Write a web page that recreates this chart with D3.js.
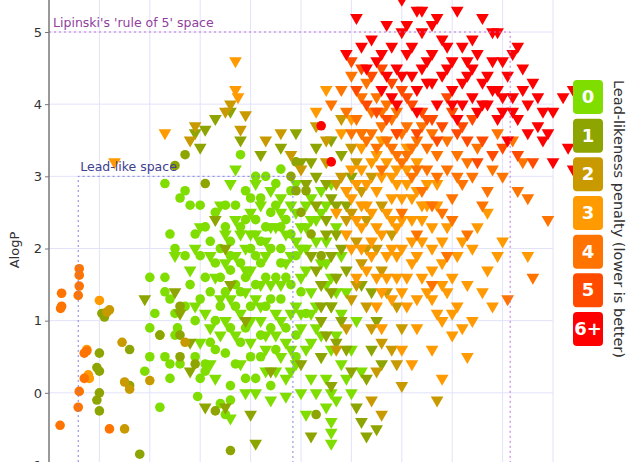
<!DOCTYPE html>
<html><head><meta charset="utf-8">
<script src="https://cdn.jsdelivr.net/npm/d3@7"></script>
<style>body{margin:0;background:#fff}svg{font-family:"DejaVu Sans",sans-serif}</style>
</head><body><svg id="c" width="640" height="462"></svg>
<script>
const penaltyLabels = ["0","1","2","3","4","5","6+"];
const penaltyColors = ["#7fdd00","#8ea400","#c99a00","#ff9a00","#ff7400","#ff4a00","#ff0000"];
const yTicks = [-1,0,1,2,3,4,5];
const xGrid = [1,2,3,4,5,6,7,8,9,10];
// points: "x,y" lists per penalty class; circles and triangles
const circles = [
"2.6,2.7 2.8,2.6 2.4,2.2 2.5,2.0 2.3,1.6 2.3,1.4 2.4,1.3 2.5,1.1 2.55,0.9 2.2,0.8 2.5,0.8 2.3,0.5 2.4,0.4 2.4,0.2 2.2,-0.2 2.9,0.5 3.0,0.2 2.95,-0.05 2.9,1.0 3.0,1.3 3.1,1.6 3.0,1.9 3.2,2.1 3.3,1.8 3.2,1.4 3.4,1.2 3.5,1.4 3.6,1.7 3.4,2.0 3.5,2.3 3.1,2.3 3.3,2.5 3.6,2.1 3.7,1.5 3.6,0.9 3.8,0.7 3.7,0.4 3.9,0.2 3.6,0.1 3.5,0.55 3.3,0.6 3.1,0.3 3.4,-0.15 3.5,-0.3 3.9,0.9 4.0,1.2 4.1,1.5 3.8,1.8 4.0,2.0 3.9,2.4 3.7,2.6 3.9,2.8 4.2,2.7 4.3,2.3 4.4,2.0 4.2,1.8 4.5,1.6 4.3,1.2 4.6,1.3 4.4,0.9 4.5,0.6 4.2,0.5 4.1,0.2 4.4,0.1 4.7,0.9 4.8,1.5 4.6,2.0 4.7,2.4 4.5,2.6 4.8,2.8 4.3,3.0 4.6,3.1 3.8,3.3 4.1,3.0 2.3,2.9 2.7,2.8 2.0,1.6 2.1,1.1 2.0,0.9 2.0,0.5 1.9,0.3 3.6,-0.1 3.1,0.4 4.9,1.9 4.9,0.8 5.1,1.1 2.8,1.5 2.7,1.9 3.0,2.6 3.8,2.3 4.1,1.9 4.3,1.6 4.6,1.8 4.0,0.5 3.3,1.0 3.4,1.6 3.7,1.2 3.9,1.6 4.1,2.4 4.2,2.1 4.4,2.5 4.6,2.3 4.7,1.6 4.4,1.3 4.2,0.8 3.8,1.4 3.6,1.9 3.5,2.6 4.0,2.7 4.5,2.9 4.8,2.2 5.0,1.4 4.9,0.5 3.2,0.7 2.7,1.2 2.6,0.4 2.9,2.2",
"1.1,1.05 1.05,1.1 1.0,0.55 1.0,0.3 0.95,0.35 1.0,0.0 1.0,-0.25 0.95,-0.1 1.6,0.6 1.6,0.1 2.2,0.8 2.6,0.5 2.6,0.8 2.6,1.2 2.9,0.4 3.1,2.9 2.5,3.15 2.7,3.3 4.8,3.0 4.9,2.8 5.0,2.5 5.2,2.2 5.4,1.9 1.8,-0.85 3.3,-0.25 5.3,-0.3 3.6,-0.8 4.9,3.2 5.1,2.8",
"1.15,1.12 1.2,1.15 1.45,0.7 1.5,0.15 2.7,0.7 1.5,-0.5 1.6,0.05 2.0,0.17",
"1.0,1.28 0.75,0.6 0.8,0.2 0.78,0.25",
"0.23,1.17 0.25,1.2 0.25,1.38 0.6,1.72 0.6,1.63 0.6,1.48 0.58,1.35 0.6,0.02 0.58,-0.2 0.22,-0.45 0.7,0.55 0.75,0.58 0.7,0.2 1.2,-0.5",
"",
"5.4,3.7 5.6,3.2"
];
const triangles = [
"2.5,1.9 2.8,1.7 3.0,0.7 3.2,0.4 3.2,0.9 3.4,0.8 3.5,1.0 3.6,1.3 3.8,1.1 3.9,1.4 3.7,1.9 3.8,2.2 4.0,2.5 4.1,2.2 4.2,1.5 4.0,0.7 3.8,0.4 4.1,0.0 4.3,0.3 4.3,0.8 4.5,1.1 4.6,0.5 4.7,0.2 4.4,-0.1 4.8,0.6 4.9,1.2 5.0,1.6 5.1,2.0 5.0,2.3 4.8,2.6 4.9,2.9 5.2,2.7 5.3,2.4 5.2,1.4 5.3,0.9 5.4,0.5 5.5,0.2 5.6,0.0 5.5,-0.2 5.6,-0.4 5.2,0.2 5.0,0.0 4.7,-0.05 5.4,1.8 5.5,2.1 5.6,1.6 5.6,1.2 5.7,0.8 5.5,2.6 5.4,2.8 5.6,2.9 5.7,2.3 4.4,2.8 4.6,2.5 3.6,2.9 3.4,2.6 3.0,2.3 2.9,2.0 3.3,1.6 4.2,1.2 4.7,1.8 4.9,2.1 5.1,0.6 5.3,0.0 5.1,-0.3 5.7,-0.1 5.8,0.4 5.9,0.2 6.0,0.0 4.0,1.7 4.4,1.5 4.5,2.3 4.1,2.9 3.7,3.1 5.8,1.9 5.9,1.4 6.1,1.0 6.0,0.6 6.2,0.3 3.9,0.0 3.3,0.2 3.6,-0.35 2.9,1.2 4.3,2.1 4.6,1.0 4.8,0.3 5.0,0.9 5.2,1.1 4.5,0.8 4.2,1.0 3.9,1.7 5.3,2.1 5.1,2.6 4.7,2.2 5.6,-0.55 5.6,-0.7 3.5,1.8 3.7,0.8 3.9,2.0 4.1,1.3 4.3,1.9 4.4,2.3 4.6,1.5 4.8,1.1 4.8,1.9 5.0,2.0 5.1,1.7 5.2,2.4 5.3,1.2 5.4,0.8 5.5,1.5 5.0,1.1 4.7,0.7 4.3,0.6 4.0,1.0 3.7,2.4 4.0,2.2 4.2,2.6 4.6,2.7 4.9,2.5 5.1,2.3 5.4,2.5 5.5,1.8 5.2,0.7 4.9,0.4 4.5,0.3 3.4,1.3 3.1,1.1 3.2,1.9 3.5,2.2 5.7,1.4 5.8,1.1 5.6,0.6",
"1.9,1.3 2.5,1.4 2.6,1.1 2.8,0.7 2.8,0.3 3.1,-0.2 3.5,-0.2 4.0,-0.3 4.1,-0.7 4.4,0.3 5.0,0.4 5.2,-0.6 5.6,0.1 5.4,0.5 5.5,0.8 5.6,1.2 5.4,1.5 5.3,1.7 5.6,1.9 5.7,2.2 5.5,2.4 5.6,2.7 5.3,3.0 5.0,3.2 4.6,3.4 4.2,3.3 3.8,3.5 3.0,3.4 3.1,3.65 2.9,3.6 3.3,3.8 3.6,3.9 3.3,2.4 3.5,2.0 3.6,1.5 3.9,1.0 5.8,1.0 5.9,0.6 6.0,0.3 6.1,-0.2 6.2,-0.4 6.3,0.2 6.4,0.6 6.2,1.5 5.9,2.6 6.0,3.0 5.8,3.3 5.6,3.5 5.3,3.4 4.9,3.6 5.7,1.6 5.8,2.0 6.5,1.0 6.4,1.4 6.6,0.4 6.3,-0.6 6.5,-0.5 5.4,1.2 5.5,2.9 5.2,3.2 5.3,2.6 5.5,2.2 5.4,1.0 5.7,0.7 5.2,1.9 5.1,2.9 5.7,2.6 5.9,1.7 5.6,1.4",
"3.6,4.0 3.5,3.9 3.9,3.85 3.8,3.65 2.8,3.5 2.9,3.7 4.3,3.5 4.6,3.6 4.8,3.3 5.0,3.1 5.3,3.7 5.5,3.2 5.7,2.9 6.0,2.5 6.1,2.1 6.2,1.8 6.3,1.2 6.4,0.9 6.5,0.3 6.6,0.7 6.8,0.6 6.9,0.4 7.0,0.9 6.7,1.4 6.5,2.0 6.3,2.4 6.2,2.8 6.0,3.4 5.8,3.8 5.5,3.5 6.1,3.2 6.6,1.7 6.9,1.2 6.4,-0.1 6.6,-0.3 7.0,0.1 7.7,-0.1 5.9,0.9 6.0,1.3 5.7,0.6 6.8,2.2 6.6,2.6 6.4,3.0 5.9,2.4 6.1,1.5 6.3,2.0 5.8,3.0 6.2,3.6",
"3.7,4.6 3.7,4.2 3.75,4.1 2.3,3.6 1.3,3.2 5.5,4.2 5.3,3.9 5.8,3.6 6.0,3.8 6.2,3.4 6.4,3.2 6.5,2.8 6.7,2.5 6.9,2.3 7.0,2.0 7.2,1.8 7.4,1.6 7.6,1.3 7.8,1.0 8.0,0.8 8.3,0.5 7.6,0.6 7.3,0.9 7.1,1.2 6.9,1.6 6.7,1.9 6.5,2.3 6.3,2.6 6.1,2.9 6.0,3.1 6.6,3.5 6.8,3.0 7.0,2.7 7.2,2.4 7.4,2.1 7.6,2.0 7.8,1.8 8.0,1.6 8.3,1.5 8.6,1.4 8.9,1.9 9.0,2.1 9.5,1.9 8.8,1.2 8.1,1.2 7.9,2.3 7.7,2.6 7.5,2.9 7.3,3.2 7.1,3.4 6.9,3.6 7.5,1.4 8.2,2.1 6.5,1.2 6.3,1.7 6.1,2.4 5.9,2.2 5.7,2.5 5.9,2.8 6.2,2.0 6.8,1.3 7.0,0.6 7.2,0.4 6.6,0.9 7.8,0.2 8.5,2.3 8.7,2.5 8.4,1.0 6.4,2.1 6.8,2.0 7.1,2.9 6.2,3.1 6.6,3.0 7.4,2.6 7.9,1.4 6.1,1.6 6.0,2.0 6.2,2.3 6.4,2.5 6.6,2.2 6.8,2.7 7.0,2.4 7.2,2.1 7.4,2.4 7.6,2.3 7.8,2.1 7.3,1.9 7.1,1.6 6.9,1.9 6.7,1.6 6.5,1.6 6.3,2.9 6.5,3.3 6.7,3.2 6.9,3.1 7.1,3.1 7.3,2.8 7.5,2.6 7.7,2.9 7.2,2.7 6.8,2.4 6.4,1.9 6.0,2.7 6.2,2.6 6.9,2.9 7.6,1.7 7.8,1.5 8.1,1.9 8.4,2.0 8.7,1.7 6.6,1.4 7.0,1.4 7.3,1.3 7.7,1.1 8.0,1.1 8.2,0.9",
"5.6,4.0 5.8,4.2 6.0,4.4 6.2,4.1 6.4,3.9 6.6,3.7 6.8,3.4 7.0,3.2 7.2,3.0 7.4,2.8 7.6,2.6 7.8,2.5 8.0,2.7 8.2,2.9 8.4,3.0 8.6,2.6 8.8,3.1 9.3,2.8 9.5,2.7 9.9,2.4 9.0,3.0 8.3,2.2 7.9,1.9 6.3,4.3 6.5,4.1 6.7,4.0 6.9,3.9 7.1,3.7 7.3,3.5 7.5,3.4 7.7,3.3 7.9,3.5 8.1,3.3 8.5,3.4 8.9,3.6 9.2,3.5 9.4,3.2 7.0,2.5 6.6,3.1 6.2,3.6 5.9,3.9 7.3,2.2 7.6,1.5 9.1,1.3 9.6,1.6 6.1,3.8 6.3,3.5 6.5,3.4 6.7,3.5 6.9,3.3 7.1,3.3 7.3,3.1 7.5,3.1 7.7,3.0 7.9,3.1 8.1,3.0 8.3,3.2 8.0,2.4 7.4,3.7 7.0,3.6 6.6,3.9 6.4,3.6 6.8,3.8 7.2,3.4 7.6,3.6 8.7,2.8 6.0,3.6",
"6.0,4.6 6.2,4.5 6.4,4.4 6.6,4.5 6.8,4.3 7.0,4.2 7.2,4.0 7.4,3.9 7.6,3.8 7.8,3.7 8.0,3.9 8.2,3.7 8.4,3.8 8.6,3.5 8.8,3.3 9.0,3.4 9.3,3.3 6.5,3.9 6.9,3.6 7.3,3.6 7.7,3.5 8.1,3.6 8.5,3.2 9.6,3.2 6.3,4.0 7.1,4.1 7.9,4.1 6.7,3.8 7.5,3.8 8.3,3.5 6.1,4.2",
"6.4,4.9 6.5,4.6 6.7,5.1 6.8,4.8 6.9,4.5 7.0,5.0 7.1,4.7 7.2,4.4 7.3,5.3 7.4,5.0 7.5,4.6 7.6,4.3 7.7,5.2 7.8,4.9 7.9,4.5 8.0,4.2 8.1,5.3 8.2,4.8 8.3,4.4 8.4,4.1 8.5,4.7 8.6,4.3 8.7,4.0 8.8,4.6 8.9,4.2 9.0,3.9 9.1,4.4 9.2,4.1 9.3,4.8 9.4,4.5 9.5,4.0 9.6,4.3 9.7,3.7 9.8,3.5 10.0,3.9 10.2,4.1 10.4,4.2 9.9,3.6 10.3,3.4 10.4,3.1 7.0,5.45 7.4,5.3 8.8,5.0 8.9,5.0 7.6,5.1 8.0,4.6 6.6,4.2 6.9,4.0 7.3,4.2 8.3,4.6 9.0,4.6 9.3,3.8 8.5,3.9 7.7,4.0 6.2,4.8 8.6,5.2 8.2,4.0 9.5,3.6 9.1,3.5 10.0,3.2 5.9,4.7 6.1,5.2 7.5,4.3 8.7,4.4 9.2,4.7 6.8,4.1 6.6,4.7 7.0,4.4 7.2,4.8 7.4,4.5 7.6,4.7 7.8,4.4 8.0,4.0 8.2,4.3 8.4,4.5 8.6,4.0 8.8,4.2 9.0,4.1 9.2,3.9 9.4,4.2 8.9,3.8 8.1,3.8 7.3,3.9 6.7,4.4 8.4,4.9 7.9,4.8 7.1,5.1 6.3,4.5 9.7,4.1 9.8,3.9"
];
const parse = s => s.trim() ? s.trim().split(/\s+/).map(p => p.split(",").map(Number)) : [];

const svg = d3.select("#c");
const x = d3.scaleLinear().domain([0,10]).range([49,553]);
const y = d3.scaleLinear().domain([-1,5]).range([465,32]);

const g = svg.append("g");
g.selectAll(".vg").data(xGrid).join("line").attr("x1",d=>x(d)).attr("x2",d=>x(d)).attr("y1",0).attr("y2",462).attr("stroke","#e2e2fb");
g.selectAll(".hg").data(yTicks).join("line").attr("x1",49).attr("x2",553).attr("y1",d=>y(d)).attr("y2",d=>y(d)).attr("stroke","#e2e2fb");

svg.append("path").attr("d",`M${x(0)},${y(5)}H${x(9.15)}V462`).attr("fill","none").attr("stroke","#c070d8").attr("stroke-dasharray","2,3");
svg.append("path").attr("d",`M${x(0.58)},462V${y(3)}H${x(4.84)}V462`).attr("fill","none").attr("stroke","#8080dd").attr("stroke-dasharray","2,3");
svg.append("text").attr("x",x(0.08)).attr("y",y(5)-5).attr("font-size",12.5).attr("fill","#9040a0").text("Lipinski's 'rule of 5' space");
svg.append("text").attr("x",x(0.62)).attr("y",y(3)-5).attr("font-size",12.5).attr("fill","#404090").text("Lead-like space");

const tri = d3.symbol().type(d3.symbolTriangle).size(70);
penaltyColors.forEach((col,i)=>{
  g.append("g").selectAll("circle").data(parse(circles[i])).join("circle")
    .attr("cx",d=>x(d[0])).attr("cy",d=>y(d[1])).attr("r",4.8).attr("fill",col);
  g.append("g").selectAll("path").data(parse(triangles[i])).join("path")
    .attr("d",tri).attr("transform",d=>`translate(${x(d[0])},${y(d[1])}) rotate(180)`).attr("fill",col);
});

svg.append("line").attr("x1",49).attr("x2",49).attr("y1",0).attr("y2",462).attr("stroke","#777").attr("stroke-width",1.5);
const ay = svg.append("g").attr("transform","translate(49,0)").call(d3.axisLeft(y).tickValues(yTicks).tickSize(4).tickFormat(d3.format("d")));
ay.select(".domain").remove();
ay.selectAll("text").attr("font-size",13).attr("fill","#333").attr("font-family","DejaVu Sans");
ay.selectAll("line").attr("stroke","#777");
svg.append("text").attr("transform","translate(19,250) rotate(-90)").attr("text-anchor","middle").attr("font-size",13).attr("fill","#333").text("AlogP");

const lg = svg.append("g");
const ly = d3.scaleBand().domain(penaltyLabels).range([80,346]).paddingInner(0.12);
lg.selectAll("rect").data(penaltyLabels).join("rect").attr("x",573).attr("y",d=>ly(d)).attr("width",30).attr("height",ly.bandwidth()).attr("rx",4).attr("fill",(d,i)=>penaltyColors[i]);
lg.selectAll("text").data(penaltyLabels).join("text").attr("x",588).attr("y",d=>ly(d)+ly.bandwidth()/2+6).attr("text-anchor","middle").attr("font-size",18).attr("font-weight","bold").attr("fill","#fff").text(d=>d);
svg.append("text").attr("transform","translate(614,80) rotate(90)").attr("font-size",14.5).attr("fill","#333").text("Lead-likeness penalty (lower is better)");
</script></body></html>
